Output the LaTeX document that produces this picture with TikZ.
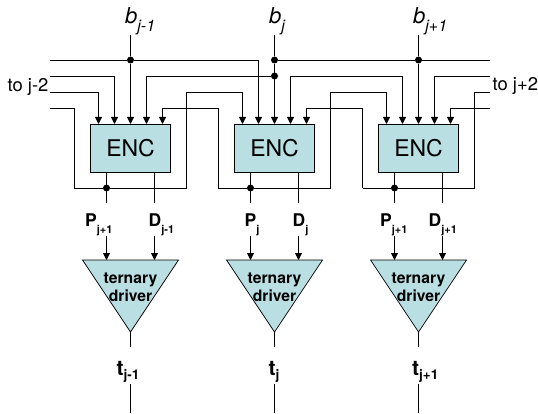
\documentclass[tikz,border=0pt]{standalone}
\usepackage{fontspec}
\setmainfont{TeX Gyre Heros}
\usetikzlibrary{arrows.meta}
\definecolor{encfill}{HTML}{B9DFE3}
\newcommand{\FS}[1]{\fontsize{#1}{#1}\selectfont}
\newcommand{\BLbl}[2]{{\FS{22}\itshape #1}\raisebox{-8pt}{\FS{16}\itshape #2}}
\newcommand{\PLbl}[2]{{\FS{17.5}\bfseries #1}\raisebox{-6.5pt}{\FS{11}\bfseries #2}}
\newcommand{\TLbl}[2]{{\FS{21}\bfseries #1}\raisebox{-4.5pt}{\FS{13.5}\bfseries #2}}
\tikzset{
  wire/.style={line width=0.9pt,line join=miter},
  inwire/.style={wire,-{Triangle[length=7pt,width=7pt]}},
  encbox/.style={draw,line width=0.9pt,fill=encfill,minimum width=80pt,minimum height=48pt,inner sep=0pt,font=\FS{23}},
  dot/.style={circle,fill=black,inner sep=0pt,minimum size=7pt},
  lbl/.style={inner sep=0pt,anchor=base west},
  drv/.style={draw,line width=0.7pt,fill=encfill,line join=miter},
  drvtext/.style={inner sep=0pt,anchor=base,font=\FS{15.7}\bfseries}
}
\begin{document}
\begin{tikzpicture}[x=1pt,y=-1pt]
\useasboundingbox (0,0) rectangle (538,414);
% boxes
\node[encbox] (A) at (130.5,148) {ENC};
\node[encbox] (B) at (274.5,148) {ENC};
\node[encbox] (C) at (418.5,148) {ENC};
% ports
\foreach \n/\x in {A/130.5,B/274.5,C/418.5}{
  \coordinate (\n1) at (\x-32,124);
  \coordinate (\n2) at (\x-16,124);
  \coordinate (\n3) at (\x,124);
  \coordinate (\n4) at (\x+16,124);
  \coordinate (\n5) at (\x+32,124);
  \coordinate (\n P) at (\x-24,172);
  \coordinate (\n D) at (\x+24,172);
  \coordinate (\n Pe) at (\x-24,203);
  \coordinate (\n De) at (\x+24,203);
  \coordinate (\n Pi) at (\x-24,236);
  \coordinate (\n Di) at (\x+24,236);
  \coordinate (\n Pt) at (\x-24,260);
  \coordinate (\n Dt) at (\x+24,260);
  \coordinate (\n bt) at (\x,35);
  \coordinate (\n tl) at (\x-48,260);
  \coordinate (\n tr) at (\x+48,260);
  \coordinate (\n ap) at (\x,332);
  \coordinate (\n ste) at (\x,347);
  \coordinate (\n oa) at (\x,384);
  \coordinate (\n ob) at (\x,413);
  \node[dot] (\n fb) at (\x-24,188) {};
}
\node[dot] (dA) at (130.5,60) {};
\node[dot] (dB) at (274.5,60) {};
\node[dot] (dBb) at (274.5,76) {};
\node[dot] (dC) at (418.5,60) {};
\foreach \y in {60,76,92,108}{
  \coordinate (L\y) at (50,\y);
  \coordinate (R\y) at (490,\y);
}
% b lines
\draw[wire] (Abt) -- (dA);
\draw[wire] (Bbt) -- (dB);
\draw[wire] (Cbt) -- (dC);
\draw[inwire] (dA) -- (A3);
\draw[inwire] (dB) -- (B3);
\draw[inwire] (dC) -- (C3);
% y=60
\draw[wire] (L60) -- (dA);
\draw[inwire] (dA) -| (B2);
\draw[wire] (dB) -- (R60);
% y=76
\draw[inwire] (L76) -| (A2);
\draw[inwire] (dBb) -| (A4);
\draw[inwire] (R76) -| (C4);
\draw[inwire] (C2) ++(0,-48) -- (C2);
\draw[inwire] (C2) ++(0,-48) -| (B4);
% y=92 and 108: feedback routes
\draw[inwire] (L92) -| (A1);
\draw[inwire] (L108) -| (74,188) -- (186.5,188) -- (186.5,92) -| (B1);
\draw[inwire] (330.5,188) -- (218.5,188) -- (218.5,108) -| (A5);
\draw[inwire] (330.5,188) -- (330.5,92) -| (C1);
\draw[wire] (R92) -| (474.5,188) -- (362.5,188);
\draw[inwire] (362.5,188) -- (362.5,108) -| (B5);
\draw[inwire] (R108) -| (C5);
% outputs
\foreach \n in {A,B,C}{
  \draw[wire] (\n P) -- (\n Pe);
  \draw[wire] (\n D) -- (\n De);
  \draw[inwire] (\n Pi) -- (\n Pt);
  \draw[inwire] (\n Di) -- (\n Dt);
  \draw[drv] (\n tl) -- (\n tr) -- (\n ap) -- cycle;
  \draw[wire] (\n ap) -- (\n ste);
  \draw[wire] (\n oa) -- (\n ob);
}
\foreach \n/\x in {A/130.5,B/274.5,C/418.5}{
  \node[drvtext] (\n t1) at (\x,283) {ternary};
  \node[drvtext] (\n t2) at (\x,301.7) {driver};
}
% labels
\node[lbl] (bA) at (125,24) {\BLbl{b}{j-1}};
\node[lbl] (bB) at (269,24) {\BLbl{b}{j}};
\node[lbl] (bC) at (413,24) {\BLbl{b}{j+1}};
\node[lbl,font=\FS{18.4}] (tl) at (7.5,92) {to j-2};
\node[lbl,font=\FS{18.4}] (tr) at (492.5,91) {to j+2};
\node[lbl] (pA) at (85,226.7) {\PLbl{P}{j+1}};
\node[lbl] (qA) at (148.5,226.7) {\PLbl{D}{j-1}};
\node[lbl] (pB) at (244.5,226.7) {\PLbl{P}{j}};
\node[lbl] (qB) at (292.5,226.7) {\PLbl{D}{j}};
\node[lbl] (pC) at (380,226.7) {\PLbl{P}{j+1}};
\node[lbl] (qC) at (428.5,226.7) {\PLbl{D}{j+1}};
\node[lbl] (tA) at (116.5,375) {\TLbl{t}{j-1}};
\node[lbl] (tB) at (268.5,375) {\TLbl{t}{j}};
\node[lbl] (tC) at (412,375) {\TLbl{t}{j+1}};
\end{tikzpicture}
\end{document}
